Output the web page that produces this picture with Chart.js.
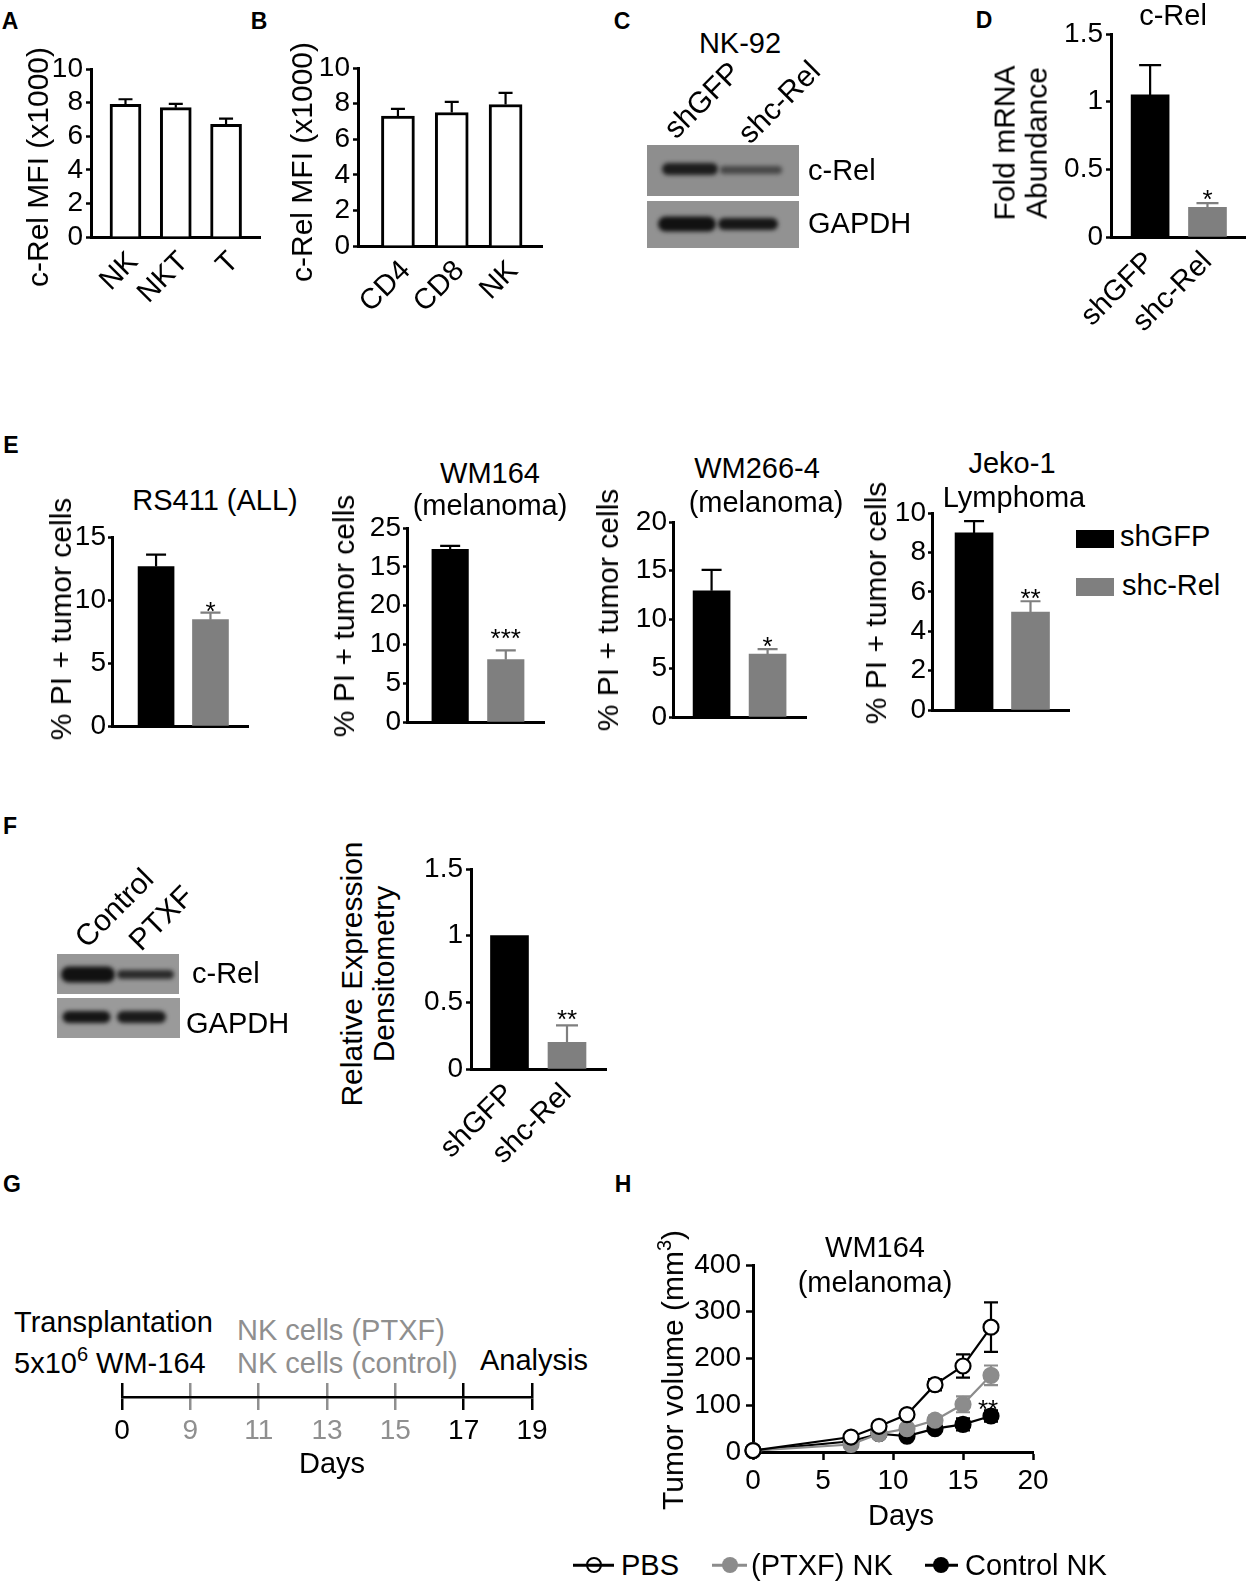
<!DOCTYPE html>
<html>
<head>
<meta charset="utf-8">
<script src="https://cdn.jsdelivr.net/npm/chart.js@4.4.1/dist/chart.umd.min.js"></script>
<style>
  body { margin: 0; background: #fff; }
  #fig { position: relative; width: 1248px; height: 1591px; overflow: hidden;
         font-family: "Liberation Sans", Arial, Helvetica, sans-serif; color: #000; }
  canvas { position: absolute; }
  .t { position: absolute; white-space: nowrap; font-size: 29px; line-height: 1; }
  .c { transform: translate(-50%, -50%); }
  .l { transform: translateY(-50%); }
  .v { transform: translate(-50%, -50%) rotate(-90deg); text-align: center; font-size: 30px; }
  .v2 { transform: translate(-50%, -50%) rotate(-90deg); text-align: center; font-size: 30px; line-height: 1.08; }
  .d { transform: translate(-50%, -50%) rotate(-45deg); font-size: 30px; }
  .lab { font-weight: bold; font-size: 23px; }
  .g { color: #8f8f8f; }
  .sw { position: absolute; width: 38px; height: 18px; }
  .mk { position: absolute; height: 2.5px; transform: translateY(-50%); }
  .dot { position: absolute; width: 16px; height: 16px; box-sizing: border-box; border-radius: 50%;
         transform: translate(-50%, -50%); }
</style>
</head>
<body>
<div id="fig">
  <canvas id="blotC"></canvas>
  <canvas id="blotF"></canvas>
  <canvas id="chartA"></canvas>
  <canvas id="chartB"></canvas>
  <canvas id="chartD"></canvas>
  <canvas id="chartE1"></canvas>
  <canvas id="chartE2"></canvas>
  <canvas id="chartE3"></canvas>
  <canvas id="chartE4"></canvas>
  <canvas id="chartF"></canvas>
  <canvas id="chartG"></canvas>
  <canvas id="chartH"></canvas>

  <!-- panel letters -->
  <div class="t c lab" style="left:10px;top:21px">A</div>
  <div class="t c lab" style="left:259px;top:21px">B</div>
  <div class="t c lab" style="left:622px;top:21px">C</div>
  <div class="t c lab" style="left:984px;top:20px">D</div>
  <div class="t c lab" style="left:11px;top:445px">E</div>
  <div class="t c lab" style="left:10px;top:826px">F</div>
  <div class="t c lab" style="left:12px;top:1184px">G</div>
  <div class="t c lab" style="left:623px;top:1184px">H</div>

  <!-- A / B -->
  <div class="t v" style="left:38px;top:167px">c-Rel MFI (x1000)</div>
  <div class="t v" style="left:302px;top:162px">c-Rel MFI (x1000)</div>

  <!-- C -->
  <div class="t c" style="left:740px;top:43px">NK-92</div>
  <div class="t d" style="left:702px;top:100px">shGFP</div>
  <div class="t d" style="left:779px;top:102px">shc-Rel</div>
  <div class="t l" style="left:808px;top:170px">c-Rel</div>
  <div class="t l" style="left:808px;top:223px">GAPDH</div>

  <!-- D -->
  <div class="t c" style="left:1173px;top:15px">c-Rel</div>
  <div class="t v2" style="left:1021px;top:143px">Fold mRNA<br>Abundance</div>

  <!-- E -->
  <div class="t c" style="left:215px;top:500px">RS411 (ALL)</div>
  <div class="t c" style="left:490px;top:473px">WM164</div>
  <div class="t c" style="left:490px;top:505px">(melanoma)</div>
  <div class="t c" style="left:757px;top:468px">WM266-4</div>
  <div class="t c" style="left:766px;top:502px">(melanoma)</div>
  <div class="t c" style="left:1012px;top:463px">Jeko-1</div>
  <div class="t c" style="left:1014px;top:497px">Lymphoma</div>
  <div class="t v" style="left:61px;top:619px">% PI + tumor cells</div>
  <div class="t v" style="left:344px;top:616px">% PI + tumor cells</div>
  <div class="t v" style="left:608px;top:610px">% PI + tumor cells</div>
  <div class="t v" style="left:876px;top:603px">% PI + tumor cells</div>
  <div class="sw" style="left:1076px;top:530px;background:#000"></div>
  <div class="sw" style="left:1076px;top:578px;background:#7f7f7f"></div>
  <div class="t l" style="left:1120px;top:536px">shGFP</div>
  <div class="t l" style="left:1122px;top:585px">shc-Rel</div>

  <!-- F -->
  <div class="t d" style="left:114px;top:908px">Control</div>
  <div class="t d" style="left:161px;top:918px">PTXF</div>
  <div class="t l" style="left:192px;top:973px">c-Rel</div>
  <div class="t l" style="left:186px;top:1023px">GAPDH</div>
  <div class="t v2" style="left:368px;top:974px">Relative Expression<br>Densitometry</div>

  <!-- G -->
  <div class="t l" style="left:14px;top:1322px">Transplantation</div>
  <div class="t l" style="left:14px;top:1363px">5x10<span style="font-size:20px;position:relative;top:-12px">6</span> WM-164</div>
  <div class="t l g" style="left:237px;top:1330px">NK cells (PTXF)</div>
  <div class="t l g" style="left:237px;top:1363px">NK cells (control)</div>
  <div class="t l" style="left:480px;top:1360px">Analysis</div>
  <div class="t c" style="left:332px;top:1463px">Days</div>

  <!-- H -->
  <div class="t c" style="left:875px;top:1247px">WM164</div>
  <div class="t c" style="left:875px;top:1282px">(melanoma)</div>
  <div class="t v" style="left:673px;top:1370px">Tumor volume (mm<span style="font-size:20px;position:relative;top:-12px">3</span>)</div>
  <div class="t c" style="left:901px;top:1515px">Days</div>

  <div class="mk" style="left:573px;top:1565px;width:41px;background:#000"></div>
  <div class="dot" style="left:594px;top:1565px;border:2.5px solid #000"></div>
  <div class="t l" style="left:621px;top:1565px">PBS</div>
  <div class="mk" style="left:712px;top:1565px;width:35px;background:#8c8c8c"></div>
  <div class="dot" style="left:730px;top:1565px;background:#8c8c8c"></div>
  <div class="t l" style="left:751px;top:1565px">(PTXF) NK</div>
  <div class="mk" style="left:925px;top:1565px;width:33px;background:#000"></div>
  <div class="dot" style="left:941px;top:1565px;background:#000"></div>
  <div class="t l" style="left:965px;top:1565px">Control NK</div>
</div>

<script>
const FONT = '"Liberation Sans", Arial, Helvetica, sans-serif';
Chart.defaults.font.family = FONT;
Chart.defaults.color = '#000';

// A: c-Rel MFI by cell type
const aCats = ['NK', 'NKT', 'T'];
const aVals = [7.9, 7.7, 6.7];
const aErr = [0.3, 0.22, 0.35];
// B
const bCats = ['CD4', 'CD8', 'NK'];
const bVals = [7.3, 7.5, 7.95];
const bErr = [0.4, 0.6, 0.65];
const mfiTicks = [0, 2, 4, 6, 8, 10];

// D: fold mRNA
const shCats = ['shGFP', 'shc-Rel'];
const dVals = [1.05, 0.22];
const dErr = [0.22, 0.03];
const foldTicks = [0, 0.5, 1, 1.5];
const foldLabels = ['0', '0.5', '1', '1.5'];

// E: % PI+ tumor cells
const e1Vals = [12.66, 8.44];
const e1Err = [0.94, 0.56];
const e1Ticks = [0, 5, 10, 15];
const e2Vals = [22.25, 8.03];
const e2Err = [0.45, 1.2];
const e2Ticks = [0, 5, 10, 15, 20, 25];
const e2TickLabels = ['0', '5', '10', '20', '15', '25']; // as printed in the figure
const e3Vals = [12.95, 6.46];
const e3Err = [2.15, 0.5];
const e3Ticks = [0, 5, 10, 15, 20];
const e4Vals = [8.99, 4.97];
const e4Err = [0.6, 0.55];
const e4Ticks = [0, 2, 4, 6, 8, 10];

// F: densitometry
const fVals = [1.0, 0.2];
const fErr = [0, 0.127];

// G: timeline
const gDays = ['0', '9', '11', '13', '15', '17', '19'];
const gGray = [false, true, true, true, true, false, false];

// H: tumor volume
const hDays = [0, 7, 9, 11, 13, 15, 17];
const hPbs = [3, 32, 55, 80, 144, 184, 267];
const hPbsErr = [0, 3, 4, 5, 12, 25, 53];
const hPtxf = [3, 16, 39, 50, 68, 102, 164];
const hPtxfErr = [0, 2, 3, 4, 10, 17, 21];
const hCtrl = [3, 23, 39, 34, 50, 59, 77];
const hCtrlErr = [0, 2, 3, 4, 5, 13, 12];
const hXTicks = [0, 5, 10, 15, 20];
const hYTicks = [0, 100, 200, 300, 400];

const BLACK = '#000', GRAY = '#7f7f7f';

// error bars (up only for bars, both ways for the line chart)
const errPlugin = {
  id: 'errs',
  beforeDatasetsDraw(chart) {
    const ctx = chart.ctx, ys = chart.scales.y;
    chart.data.datasets.forEach((ds, di) => {
      if (!ds.errs) return;
      const meta = chart.getDatasetMeta(di);
      meta.data.forEach((el, i) => {
        const e = ds.errs[i];
        if (!e) return;
        const v = ds.data[i].y;
        const yt = ys.getPixelForValue(v + e);
        const yb = ds.errBoth ? ys.getPixelForValue(v - e) : el.y;
        const col = Array.isArray(ds.errColor) ? ds.errColor[i] : ds.errColor;
        ctx.save();
        ctx.strokeStyle = col;
        ctx.lineWidth = 2.2;
        ctx.beginPath();
        ctx.moveTo(el.x, yb);
        ctx.lineTo(el.x, yt);
        ctx.moveTo(el.x - ds.cap, yt);
        ctx.lineTo(el.x + ds.cap, yt);
        if (ds.errBoth) {
          ctx.moveTo(el.x - ds.cap, yb);
          ctx.lineTo(el.x + ds.cap, yb);
        }
        ctx.stroke();
        ctx.restore();
      });
    });
  }
};

// significance stars above the error bar
const starPlugin = {
  id: 'stars',
  afterDatasetsDraw(chart) {
    const ctx = chart.ctx, ys = chart.scales.y;
    chart.data.datasets.forEach((ds, di) => {
      if (!ds.stars) return;
      const meta = chart.getDatasetMeta(di);
      ds.stars.forEach((s, i) => {
        if (!s) return;
        const el = meta.data[i];
        const top = ys.getPixelForValue(ds.data[i].y + (ds.errs ? ds.errs[i] : 0));
        ctx.save();
        ctx.font = '26px ' + FONT;
        ctx.fillStyle = '#000';
        ctx.textAlign = 'center';
        ctx.textBaseline = 'alphabetic';
        ctx.fillText(s, el.x + (ds.starDx || 0), top - ds.starGap + 0.57 * 26);
        ctx.restore();
      });
    });
  }
};

function place(cv, area, wy, hx, pt, pr) {
  cv.width = Math.round(wy + (area.r - area.l) + pr);
  cv.height = Math.round(pt + (area.b - area.t) + hx);
  cv.style.left = (area.l - wy) + 'px';
  cv.style.top = (area.t - pt) + 'px';
}

function barChart(id, o) {
  const cv = document.getElementById(id);
  const wy = o.wy || 55, hx = o.hx || 10, pt = 20, pr = o.pr || 6;
  place(cv, o.area, wy, hx, pt, pr);
  return new Chart(cv, {
    type: 'bar',
    data: {
      datasets: [{
        data: o.vals.map((v, i) => ({ x: i + 1, y: v })),
        backgroundColor: o.fill,
        borderColor: '#000',
        borderWidth: o.bw || 0,
        borderSkipped: 'start',
        barThickness: o.barW,
        errs: o.errs,
        errColor: o.errColor,
        cap: o.cap,
        stars: o.stars,
        starGap: o.starGap
      }]
    },
    options: {
      responsive: false,
      animation: false,
      layout: { padding: { top: pt, right: pr, left: 0, bottom: 0 } },
      plugins: { legend: { display: false }, tooltip: { enabled: false } },
      scales: {
        x: {
          type: 'linear', min: o.xMin, max: o.xMax, offset: false,
          afterBuildTicks: s => { s.ticks = o.cats.map((c, i) => ({ value: i + 1 })); },
          afterFit: s => { s.height = hx; s.paddingLeft = 0; s.paddingRight = 0; },
          grid: { drawOnChartArea: false, drawTicks: false, offset: false },
          border: { color: '#000', width: 3 },
          ticks: {
            display: !!o.showCats,
            callback: v => o.cats[v - 1],
            minRotation: 45, maxRotation: 45, autoSkip: false,
            padding: 8, labelOffset: o.labelOffset || 0,
            font: { size: 29 }
          }
        },
        y: {
          min: 0, max: o.yTicks[o.yTicks.length - 1],
          afterBuildTicks: s => { s.ticks = o.yTicks.map(v => ({ value: v })); },
          afterFit: s => { s.width = wy; s.paddingTop = 0; s.paddingBottom = 0; },
          grid: { drawOnChartArea: false, tickLength: o.tick || 5, tickWidth: 2.5, color: '#000' },
          border: { color: '#000', width: 3 },
          ticks: {
            callback: (v, i) => String((o.yLabels || o.yTicks)[i]),
            autoSkip: false,
            padding: o.tickPad || 3,
            font: { size: 28 }
          }
        }
      }
    },
    plugins: [errPlugin, starPlugin]
  });
}

// ---- A & B ----
barChart('chartA', {
  area: { l: 91, t: 69, r: 260, b: 237 }, wy: 50, hx: 85,
  cats: aCats, vals: aVals, errs: aErr, errColor: BLACK, cap: 7,
  fill: '#fff', bw: 3, barW: 31, xMin: 0.314, xMax: 3.675,
  yTicks: mfiTicks, showCats: true, labelOffset: 8
});
barChart('chartB', {
  area: { l: 358, t: 67.7, r: 542, b: 246 }, wy: 50, hx: 90,
  cats: bCats, vals: bVals, errs: bErr, errColor: BLACK, cap: 7,
  fill: '#fff', bw: 3, barW: 33, xMin: 0.258, xMax: 3.677,
  yTicks: mfiTicks, showCats: true, labelOffset: 8
});

// ---- D ----
barChart('chartD', {
  area: { l: 1110.7, t: 34.3, r: 1245, b: 237.3 }, wy: 60, hx: 100, pr: 3,
  cats: shCats, vals: dVals, errs: dErr, errColor: [BLACK, GRAY], cap: 11,
  fill: [BLACK, GRAY], barW: 38, xMin: 0.318, xMax: 2.654,
  yTicks: foldTicks, yLabels: foldLabels, showCats: true,
  stars: ['', '*'], starGap: 10
});

// ---- E ----
const eCommon = { cats: shCats, fill: [BLACK, GRAY], errColor: [BLACK, GRAY], cap: 10, tick: 4, tickPad: 2 };
barChart('chartE1', Object.assign({}, eCommon, {
  area: { l: 112, t: 537.3, r: 248, b: 726.7 }, vals: e1Vals, errs: e1Err,
  barW: 36, xMin: 0.19, xMax: 2.69, yTicks: e1Ticks, stars: ['', '*'], starGap: 7
}));
barChart('chartE2', Object.assign({}, eCommon, {
  area: { l: 407, t: 527.7, r: 543.7, b: 721.7 }, vals: e2Vals, errs: e2Err,
  barW: 36.5, xMin: 0.224, xMax: 2.687, yTicks: e2Ticks, yLabels: e2TickLabels,
  stars: ['', '***'], starGap: 18
}));
barChart('chartE3', Object.assign({}, eCommon, {
  area: { l: 673, t: 522.3, r: 805.7, b: 717.3 }, vals: e3Vals, errs: e3Err,
  barW: 37, xMin: 0.311, xMax: 2.686, yTicks: e3Ticks, stars: ['', '*'], starGap: 9
}));
barChart('chartE4', Object.assign({}, eCommon, {
  area: { l: 932, t: 513.3, r: 1069, b: 710.7 }, vals: e4Vals, errs: e4Err,
  barW: 38, xMin: 0.255, xMax: 2.682, yTicks: e4Ticks, stars: ['', '**'], starGap: 9
}));

// ---- F ----
barChart('chartF', {
  area: { l: 470.5, t: 869, r: 605, b: 1069.3 }, wy: 60, hx: 100,
  cats: shCats, vals: fVals, errs: fErr, errColor: [BLACK, GRAY], cap: 11,
  fill: [BLACK, GRAY], barW: 38, xMin: 0.331, xMax: 2.678,
  yTicks: foldTicks, yLabels: foldLabels, showCats: true,
  stars: ['', '**'], starGap: 12
});

// ---- G: timeline ----
(function () {
  const cv = document.getElementById('chartG');
  const area = { l: 121.8, t: 1383.3, r: 531.8, b: 1397.3 };
  place(cv, area, 32, 60, 0, 30);
  const col = i => (gGray[i] ? '#8f8f8f' : '#000');
  new Chart(cv, {
    type: 'line',
    data: { labels: gDays, datasets: [] },
    options: {
      responsive: false,
      animation: false,
      layout: { padding: { left: 32, right: 30, top: 0, bottom: 0 } },
      plugins: { legend: { display: false }, tooltip: { enabled: false } },
      scales: {
        x: {
          type: 'category', offset: false,
          afterFit: s => { s.height = 60; s.paddingLeft = 0; s.paddingRight = 0; },
          grid: { color: c => col(c.index), lineWidth: 2.5, tickLength: 13, drawOnChartArea: true },
          border: { color: '#000', width: 2.5 },
          ticks: { color: c => col(c.index), font: { size: 28 }, padding: 4, maxRotation: 0, autoSkip: false }
        },
        y: { display: false, min: 0, max: 1 }
      }
    }
  });
})();

// ---- H: tumor growth ----
(function () {
  const cv = document.getElementById('chartH');
  const area = { l: 753.3, t: 1265, r: 1033.3, b: 1451.7 };
  const wy = 70, hx = 50, pt = 20, pr = 20;
  place(cv, area, wy, hx, pt, pr);
  const mk = (vals, errs, line, fill, stars) => ({
    data: hDays.map((d, i) => ({ x: d, y: vals[i] })),
    borderColor: line, borderWidth: 2.2,
    pointRadius: 7.5, pointBorderWidth: 2.2,
    pointBackgroundColor: fill, pointBorderColor: line,
    pointStyle: 'circle', tension: 0, clip: false,
    errs: errs, errBoth: true, errColor: line, cap: 7,
    stars: stars, starGap: 7, starDx: -3
  });
  new Chart(cv, {
    type: 'line',
    data: {
      datasets: [
        mk(hPbs, hPbsErr, '#000', '#fff'),
        mk(hPtxf, hPtxfErr, '#8c8c8c', '#8c8c8c'),
        mk(hCtrl, hCtrlErr, '#000', '#000', ['', '', '', '', '', '', '**'])
      ]
    },
    options: {
      responsive: false,
      animation: false,
      layout: { padding: { top: pt, right: pr, left: 0, bottom: 0 } },
      plugins: { legend: { display: false }, tooltip: { enabled: false } },
      scales: {
        x: {
          type: 'linear', min: 0, max: 20,
          afterBuildTicks: s => { s.ticks = hXTicks.map(v => ({ value: v })); },
          afterFit: s => { s.height = hx; s.paddingLeft = 0; s.paddingRight = 0; },
          grid: { drawOnChartArea: false, tickLength: 8, tickWidth: 2.5, color: '#000' },
          border: { color: '#000', width: 3 },
          ticks: { font: { size: 28 }, padding: 4, maxRotation: 0, autoSkip: false }
        },
        y: {
          min: 0, max: 400,
          afterBuildTicks: s => { s.ticks = hYTicks.map(v => ({ value: v })); },
          afterFit: s => { s.width = wy; s.paddingTop = 0; s.paddingBottom = 0; },
          grid: { drawOnChartArea: false, tickLength: 7, tickWidth: 2.5, color: '#000' },
          border: { color: '#000', width: 3 },
          ticks: { font: { size: 28 }, padding: 5, autoSkip: false }
        }
      }
    },
    plugins: [errPlugin, starPlugin]
  });
})();

// ---- western blot images (picture content, not data) ----
function drawBlot(id, left, top, w, h, strips) {
  const cv = document.getElementById(id);
  cv.width = w; cv.height = h;
  cv.style.left = left + 'px'; cv.style.top = top + 'px';
  const ctx = cv.getContext('2d');
  strips.forEach(s => {
    ctx.fillStyle = s.bg;
    ctx.fillRect(s.x, s.y, s.w, s.h);
    ctx.save();
    ctx.beginPath();
    ctx.rect(s.x, s.y, s.w, s.h);
    ctx.clip();
    ctx.filter = 'blur(2px)';
    s.bands.forEach(b => {
      ctx.fillStyle = b.c;
      ctx.beginPath();
      ctx.roundRect(b.x, b.cy - b.h / 2, b.w, b.h, b.h / 2);
      ctx.fill();
    });
    ctx.restore();
  });
}
drawBlot('blotC', 640, 140, 170, 115, [
  { x: 7, y: 5, w: 152, h: 51, bg: '#8e8e8e', bands: [
    { x: 22, w: 56, cy: 29, h: 12, c: '#1c1c1c' },
    { x: 80, w: 62, cy: 30, h: 8, c: '#474747' }
  ] },
  { x: 7, y: 61, w: 152, h: 47, bg: '#929292', bands: [
    { x: 18, w: 58, cy: 84, h: 15, c: '#111' },
    { x: 78, w: 60, cy: 84, h: 12, c: '#161616' }
  ] }
]);
drawBlot('blotF', 50, 950, 140, 95, [
  { x: 7, y: 4, w: 122, h: 40, bg: '#979797', bands: [
    { x: 11, w: 54, cy: 24.5, h: 16, c: '#111' },
    { x: 67, w: 57, cy: 24.5, h: 9, c: '#2a2a2a' }
  ] },
  { x: 7, y: 48, w: 123, h: 40, bg: '#9a9a9a', bands: [
    { x: 12.5, w: 48, cy: 67, h: 12, c: '#151515' },
    { x: 67, w: 49, cy: 67, h: 12, c: '#1a1a1a' }
  ] }
]);
</script>
</body>
</html>
